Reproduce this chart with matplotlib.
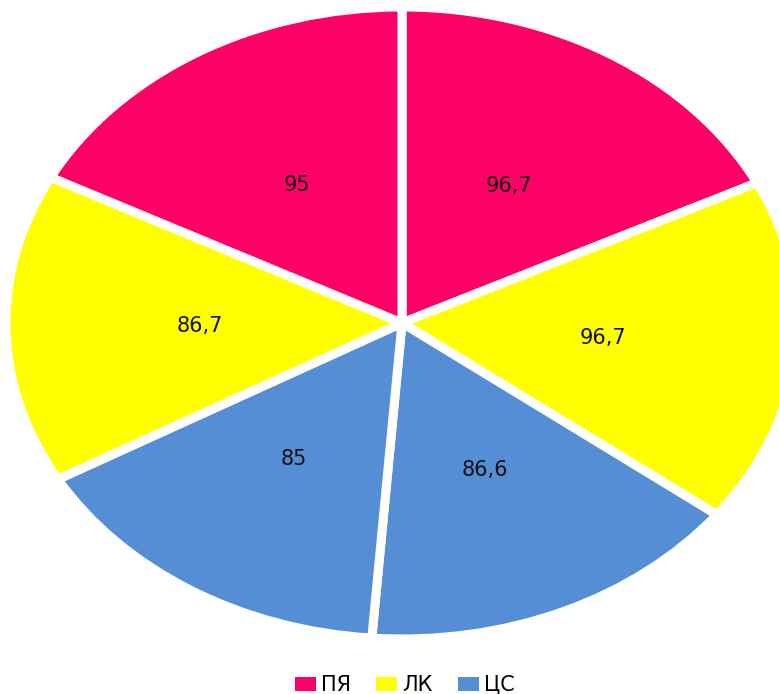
import matplotlib
matplotlib.use("Agg")
import matplotlib.pyplot as plt
from matplotlib.patches import Patch

# данные по секторам, по часовой стрелке от верха
groups = ['ПЯ', 'ЛК', 'ЦС', 'ЦС', 'ЛК', 'ПЯ']
values = [96.7, 96.7, 86.6, 85, 86.7, 95]
value_labels = ['96,7', '96,7', '86,6', '85', '86,7', '95']

legend_names = ['ПЯ', 'ЛК', 'ЦС']
group_colors = {'ПЯ': '#FF0066', 'ЛК': '#FFFF00', 'ЦС': '#558ED5'}

fig = plt.figure(figsize=(7.79, 6.94), dpi=100)
ax = fig.add_axes([0, 0, 1, 1])

wedges, texts = ax.pie(values, labels=value_labels, colors=[group_colors[g] for g in groups],
                       startangle=90, counterclock=False, labeldistance=0.51,
                       wedgeprops=dict(edgecolor='white', linewidth=6.5),
                       textprops=dict(fontsize=15, color='#111111'))
for t in texts:
    t.set_ha('center')
    t.set_va('center')

ax.set_aspect('auto')
ax.set_xlim(-1.0152, 0.952)
ax.set_ylim(-1.174, 1.022)
ax.axis('off')

handles = [Patch(facecolor=group_colors[n], edgecolor='none') for n in legend_names]
fig.legend(handles, legend_names, loc='center', bbox_to_anchor=(405 / 779, 1 - 685 / 694),
           ncol=3, frameon=False, fontsize=15, handlelength=1.0, handleheight=0.65,
           handletextpad=0.25, columnspacing=1.2)

fig.savefig('out.png', dpi=100)
